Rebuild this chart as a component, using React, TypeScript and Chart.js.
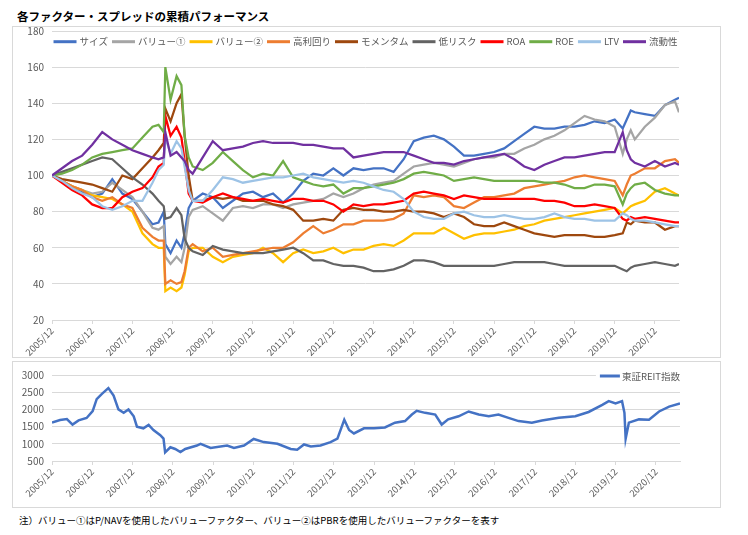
import React, { useEffect, useRef } from 'react';
import { Chart, registerables } from 'chart.js';

Chart.register(...registerables);

const JP = '"Noto Sans CJK JP", "Noto Sans", sans-serif';
const GRID = '#d9d9d9';
const TEXT = '#595959';

const TITLE = '各ファクター・スプレッドの累積パフォーマンス';
const NOTE = '注）バリュー①はP/NAVを使用したバリューファクター、バリュー②はPBRを使用したバリューファクターを表す';

const X_TICK_LABELS = [
  '2005/12', '2006/12', '2007/12', '2008/12', '2009/12', '2010/12', '2011/12', '2012/12',
  '2013/12', '2014/12', '2015/12', '2016/12', '2017/12', '2018/12', '2019/12', '2020/12',
];
const X_END = 15.6; // years after 2005/12

const TOP_Y = { min: 20, max: 180, step: 20 };
const REIT_Y = { min: 500, max: 3000, step: 500 };

// time in years after 2005/12
const T = [
  0, 0.25, 0.5, 0.75, 1, 1.25, 1.5, 1.75, 2, 2.25, 2.5,
  2.65, 2.78, 2.82, 2.95, 3.1, 3.22, 3.3, 3.4, 3.5,
  3.75, 4, 4.25, 4.5, 4.75, 5, 5.25, 5.5, 5.75, 6,
  6.25, 6.5, 6.75, 7, 7.25, 7.5, 7.75, 8, 8.25, 8.5,
  8.75, 9, 9.25, 9.5, 9.75, 10, 10.25, 10.5, 10.75, 11,
  11.25, 11.5, 11.75, 12, 12.25, 12.5, 12.75, 13, 13.25, 13.5,
  13.75, 14, 14.2, 14.3, 14.4, 14.5, 14.75, 15, 15.25, 15.5,
  15.6,
];

const SERIES_NAMES = ['サイズ', 'バリュー①', 'バリュー②', '高利回り', 'モメンタム', '低リスク', 'ROA', 'ROE', 'LTV', '流動性'];
const SERIES_COLORS = ['#4472C4', '#A5A5A5', '#FFC000', '#ED7D31', '#9E480E', '#636363', '#FF0000', '#70AD47', '#9DC3E6', '#7030A0'];

const SIZE = [
  100, 97, 93, 91, 88, 90, 98, 90, 87, 80, 73,
  74, 80, 62, 57, 64, 60, 68, 82, 86,
  90, 88, 82, 86, 90, 91, 88, 90, 85, 90,
  97, 101, 100, 104, 100, 104, 103, 104, 104, 102,
  109, 119, 121, 122, 120, 116, 111, 111, 112, 113,
  115, 119, 123, 127, 126, 126, 127, 127, 128, 130,
  129, 131, 126, 131, 136, 135, 134, 133, 139, 142,
  143,
];
const VALUE1 = [
  100, 97, 94, 92, 90, 91, 96, 92, 88, 80, 71,
  70, 72, 55, 51, 55, 52, 60, 77, 81,
  83, 79, 75, 82, 83, 82, 84, 84, 82, 84,
  85, 86, 87, 90, 88, 90, 93, 95, 96, 97,
  101, 105, 106, 107, 106, 105, 107, 109, 110, 110,
  112, 112, 115, 117, 120, 122, 125, 129, 133, 131,
  130, 127, 112, 120, 125, 120, 127, 132, 139, 141,
  135,
];
const VALUE2 = [
  100, 97, 94, 92, 89, 88, 87, 84, 80, 68, 62,
  60, 60, 36, 38, 36, 38, 45, 58, 60,
  60, 55, 52, 55, 56, 57, 60, 57, 52, 57,
  59, 57, 58, 60, 57, 59, 59, 61, 62, 61,
  64, 68, 68, 68, 71, 68, 65, 67, 68, 68,
  69, 70, 72, 73, 75, 76, 77, 78, 79, 80,
  81, 82, 79, 81, 83, 84, 86, 91, 93, 90,
  89,
];
const HIGH_YIELD = [
  100, 97, 94, 92, 88, 86, 88, 84, 82, 71, 66,
  64, 64, 40, 42, 40, 41, 47, 60, 62,
  58, 60, 55, 56, 57, 58, 59, 60, 60, 63,
  68, 72, 68, 70, 73, 73, 75, 75, 75, 76,
  79, 89, 88, 89, 88, 83, 82, 85, 88, 88,
  89, 90, 93, 94, 95, 96, 97, 99, 100, 99,
  98, 97, 89, 95, 100, 101, 104, 104, 108, 109,
  107,
];
const MOMENTUM = [
  100, 98, 97, 96, 95, 93, 91, 100, 98, 104, 110,
  114, 118, 137, 130, 140, 145, 122, 100, 86,
  86, 88, 87, 88, 86, 86, 86, 84, 83, 81,
  75, 75, 76, 75, 81, 82, 81, 81, 80, 80,
  81, 80, 80, 79, 77, 79, 77, 73, 72, 72,
  74, 72, 70, 68, 67, 66, 67, 67, 67, 66,
  66, 67, 68, 74, 73, 75, 74, 74, 70, 72,
  72,
];
const LOW_RISK = [
  100, 102, 104, 106, 108, 110, 109, 104, 99, 95, 90,
  86, 83, 76, 77, 82, 78, 65, 60, 58,
  56, 61, 59, 58, 57, 57, 57, 58, 59, 60,
  57, 53, 53, 51, 50, 50, 49, 47, 47, 48,
  50, 53, 53, 52, 50, 50, 50, 50, 50, 50,
  51, 52, 52, 52, 52, 51, 50, 50, 50, 50,
  50, 50, 48, 47, 49, 50, 51, 52, 51, 50,
  51,
];
const ROA = [
  100, 96, 92, 89, 84, 82, 82, 88, 91, 93, 99,
  105, 107, 133, 122, 127, 121, 108, 90, 86,
  85, 88, 90, 88, 87, 86, 87, 86, 85, 87,
  87, 86, 86, 84, 80, 84, 83, 84, 84, 85,
  86, 90, 91, 90, 89, 87, 89, 88, 87, 87,
  87, 87, 87, 87, 86, 86, 85, 83, 83, 84,
  83, 82, 76, 75, 77, 76, 77, 76, 75, 74,
  74,
];
const ROE = [
  100, 101, 103, 106, 110, 112, 113, 114, 115, 121, 127,
  128, 124, 160, 142, 155, 150, 122, 110, 105,
  103, 107, 113, 108, 103, 99, 101, 100, 108, 99,
  97, 95, 94, 95, 90, 93, 93, 94, 95, 96,
  98, 101, 102, 101, 100, 97, 98, 99, 98, 97,
  97, 97, 97, 97, 96, 96, 95, 93, 93, 95,
  95, 94, 84, 90, 93, 95, 96, 92, 90, 89,
  89,
];
const LTV = [
  100, 97, 93, 90, 88, 83, 81, 83, 86, 86, 96,
  103, 106, 121, 112, 119, 115, 105, 92, 86,
  86, 92, 99, 98, 96, 97, 98, 99, 99, 100,
  101, 99, 98, 97, 96, 97, 96, 94, 92, 91,
  87, 80, 77, 76, 76, 79, 80, 78, 77, 77,
  78, 77, 76, 76, 77, 79, 77, 76, 76, 75,
  75, 75, 79, 78, 76, 75, 75, 74, 73, 72,
  72,
];
const LIQUIDITY = [
  100, 104, 108, 111, 117, 124, 120, 117, 114, 112, 110,
  109, 110, 124, 111, 113, 110, 108, 103, 101,
  110, 119, 114, 115, 116, 118, 119, 118, 118, 118,
  117, 117, 116, 115, 115, 110, 111, 112, 113, 113,
  113, 111, 109, 107, 107, 106, 108, 109, 110, 111,
  112, 109, 105, 103, 106, 108, 110, 110, 111, 112,
  113, 113, 124, 114, 109, 107, 105, 108, 105, 107,
  106,
];

const REIT_LABEL = '東証REIT指数';
const REIT_COLOR = '#4472C4';
const REIT_T = [
  0, 0.2, 0.37, 0.51, 0.66, 0.86, 1.01, 1.11, 1.24, 1.4,
  1.53, 1.65, 1.78, 1.9, 2.03, 2.11, 2.27, 2.4, 2.52, 2.69,
  2.77, 2.81, 2.94, 3.06, 3.19, 3.31, 3.6, 3.69, 3.94, 4.35,
  4.52, 4.77, 5.01, 5.26, 5.6, 5.93, 6.09, 6.26, 6.43, 6.67,
  6.92, 7.09, 7.26, 7.38, 7.5, 7.75, 8.0, 8.27, 8.52, 8.77,
  8.94, 9.06, 9.27, 9.52, 9.68, 9.84, 10.1, 10.35, 10.6, 10.85,
  11.09, 11.34, 11.59, 11.92, 12.17, 12.59, 13.0, 13.33, 13.67, 13.83,
  14.0, 14.16, 14.22, 14.25, 14.33, 14.58, 14.83, 15.08, 15.33, 15.6,
];
const REIT_V = [
  1620, 1690, 1720, 1560, 1680, 1750, 1950, 2300, 2450, 2620,
  2400, 2000, 1900, 2000, 1800, 1500, 1450, 1550, 1400, 1250,
  1150, 750, 900, 850, 760, 850, 950, 1000, 880, 950,
  880, 950, 1140, 1050, 1000, 850, 830, 980, 920, 950,
  1050, 1150, 1700, 1400, 1300, 1450, 1450, 1475, 1615, 1660,
  1850, 1960, 1900, 1850, 1560, 1710, 1800, 1940, 1850, 1800,
  1850, 1755, 1660, 1615, 1680, 1755, 1800, 1925, 2130, 2240,
  2175, 2240, 1900, 1150, 1615, 1710, 1700, 1940, 2080, 2175,
];

const SERIES_VALUES = [SIZE, VALUE1, VALUE2, HIGH_YIELD, MOMENTUM, LOW_RISK, ROA, ROE, LTV, LIQUIDITY];

function xScale(height: number) {
  return {
    type: 'linear' as const,
    min: 0,
    max: X_END,
    afterBuildTicks: (axis: any) => {
      axis.ticks = X_TICK_LABELS.map((_, i) => ({ value: i }));
    },
    afterFit: (axis: any) => {
      axis.height = height;
    },
    ticks: {
      autoSkip: false,
      minRotation: 45,
      maxRotation: 45,
      color: TEXT,
      padding: 1,
      font: { family: JP, size: 9.5 },
      callback: (_v: any, i: number) => X_TICK_LABELS[i] ?? '',
    },
    grid: { drawOnChartArea: false, drawTicks: true, tickLength: 4, color: GRID },
    border: { display: true, color: GRID },
  };
}

function yScale(r: { min: number; max: number; step: number }) {
  return {
    min: r.min,
    max: r.max,
    afterFit: (axis: any) => {
      axis.width = 52;
    },
    ticks: {
      stepSize: r.step,
      color: TEXT,
      padding: 8,
      font: { family: JP, size: 10 },
      callback: (v: any) => String(v),
    },
    grid: { color: GRID, drawTicks: false },
    border: { display: false },
  };
}

const topLegendPlugin = {
  id: 'topLegend',
  afterDraw(chart: any) {
    const { ctx, chartArea } = chart;
    ctx.save();
    ctx.font = `9.5px ${JP}`;
    ctx.textBaseline = 'middle';
    ctx.textAlign = 'left';
    const LINE = 23;
    const G1 = 3;
    const G2 = 4;
    const widths = SERIES_NAMES.map((n) => ctx.measureText(n).width);
    const total = widths.reduce((s, w) => s + LINE + G1 + w, 0) + G2 * (SERIES_NAMES.length - 1);
    let x = (chartArea.left + chartArea.right) / 2 - total / 2;
    const y = chartArea.top + 10.7;
    SERIES_NAMES.forEach((n, i) => {
      ctx.strokeStyle = SERIES_COLORS[i];
      ctx.lineWidth = 3;
      ctx.beginPath();
      ctx.moveTo(x, y);
      ctx.lineTo(x + LINE, y);
      ctx.stroke();
      ctx.fillStyle = TEXT;
      ctx.fillText(n, x + LINE + G1, y);
      x += LINE + G1 + widths[i] + G2;
    });
    ctx.restore();
  },
};

const bottomLegendPlugin = {
  id: 'bottomLegend',
  afterDraw(chart: any) {
    const { ctx, chartArea } = chart;
    ctx.save();
    ctx.font = `9.5px ${JP}`;
    ctx.textBaseline = 'middle';
    ctx.textAlign = 'left';
    const w = ctx.measureText(REIT_LABEL).width;
    const LINE = 20;
    const G1 = 2;
    const right = chartArea.right;
    const x0 = right - w - G1 - LINE;
    const y = chartArea.top + 1;
    ctx.fillStyle = '#ffffff';
    ctx.fillRect(x0 - 4, y - 7, right - x0 + 6, 14);
    ctx.strokeStyle = REIT_COLOR;
    ctx.lineWidth = 3;
    ctx.beginPath();
    ctx.moveTo(x0, y);
    ctx.lineTo(x0 + LINE, y);
    ctx.stroke();
    ctx.fillStyle = TEXT;
    ctx.fillText(REIT_LABEL, x0 + LINE + G1, y);
    ctx.restore();
  },
};

export default function App() {
  const topRef = useRef<HTMLCanvasElement>(null);
  const botRef = useRef<HTMLCanvasElement>(null);

  useEffect(() => {
    const datasets = SERIES_NAMES.map((name, i) => ({
      label: name,
      data: T.map((t, j) => ({ x: t, y: SERIES_VALUES[i][j] })),
      borderColor: SERIES_COLORS[i],
      backgroundColor: SERIES_COLORS[i],
      borderWidth: 2.25,
      pointRadius: 0,
      tension: 0,
      order: SERIES_NAMES.length - i,
    }));

    const top = new Chart(topRef.current!, {
      type: 'line',
      data: { datasets },
      options: {
        responsive: false,
        animation: false,
        devicePixelRatio: 1,
        layout: { padding: { top: 15, right: 41, left: 0, bottom: 0 } },
        plugins: { legend: { display: false }, tooltip: { enabled: false } },
        scales: { x: xScale(37), y: yScale(TOP_Y) },
      } as any,
      plugins: [topLegendPlugin],
    });

    const bot = new Chart(botRef.current!, {
      type: 'line',
      data: {
        datasets: [
          {
            label: REIT_LABEL,
            data: REIT_T.map((t, j) => ({ x: t, y: REIT_V[j] })),
            borderColor: REIT_COLOR,
            backgroundColor: REIT_COLOR,
            borderWidth: 2.5,
            pointRadius: 0,
            tension: 0,
          },
        ],
      },
      options: {
        responsive: false,
        animation: false,
        devicePixelRatio: 1,
        layout: { padding: { top: 11, right: 40, left: 0, bottom: 0 } },
        plugins: { legend: { display: false }, tooltip: { enabled: false } },
        scales: { x: xScale(46), y: yScale(REIT_Y) },
      } as any,
      plugins: [bottomLegendPlugin],
    });

    return () => {
      top.destroy();
      bot.destroy();
    };
  }, []);

  return (
    <div
      style={{
        position: 'absolute',
        left: 0,
        top: 0,
        width: 748,
        height: 535,
        background: '#ffffff',
        overflow: 'hidden',
        fontFamily: JP,
      }}
    >
      <div
        style={{
          position: 'absolute',
          left: 17,
          top: 7,
          fontSize: 11.5,
          fontWeight: 'bold',
          lineHeight: '18px',
          color: '#000',
          whiteSpace: 'nowrap',
        }}
      >
        {TITLE}
      </div>
      <div style={{ position: 'absolute', left: 12, top: 26, width: 707, height: 330, border: `1px solid ${GRID}` }} />
      <div style={{ position: 'absolute', left: 12, top: 361, width: 707, height: 145, border: `1px solid ${GRID}` }} />
      <canvas
        ref={topRef}
        width={720}
        height={341}
        style={{ position: 'absolute', left: 0, top: 16, width: 720, height: 341 }}
      />
      <canvas
        ref={botRef}
        width={720}
        height={146}
        style={{ position: 'absolute', left: 0, top: 361, width: 720, height: 146 }}
      />
      <div
        style={{
          position: 'absolute',
          left: 19,
          top: 513,
          fontSize: 9.5,
          lineHeight: '14px',
          color: '#000',
          whiteSpace: 'nowrap',
        }}
      >
        {NOTE}
      </div>
    </div>
  );
}
